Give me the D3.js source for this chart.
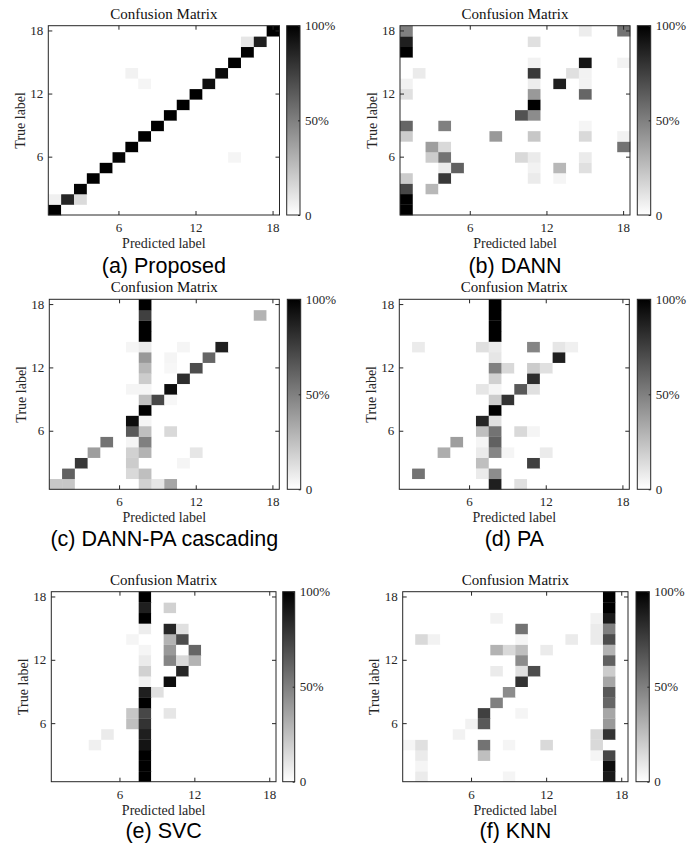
<!DOCTYPE html>
<html>
<head>
<meta charset="utf-8">
<script src="https://cdn.jsdelivr.net/npm/d3@7/dist/d3.min.js"></script>
<style>
  body { margin: 0; background: #fff; }
  svg { display: block; }
</style>
</head>
<body>
<svg id="fig" width="699" height="844"></svg>
<script>
// Class indices shared by every confusion matrix (rows: true label, columns: predicted label)
const classLabels = [1, 2, 3, 4, 5, 6, 7, 8, 9, 10, 11, 12, 13, 14, 15, 16, 17, 18];
const axisTicks = [6, 12, 18];
const colorbarTicks = [0, 50, 100];
const colorbarTickLabels = ["0", "50%", "100%"];
const panelTitle = "Confusion Matrix";
const xAxisLabel = "Predicted label";
const yAxisLabel = "True label";
const captions = ["(a) Proposed", "(b) DANN", "(c) DANN-PA cascading", "(d) PA", "(e) SVC", "(f) KNN"];

// Non-zero cells as [true label, predicted label, percent]; every other cell is 0
const proposedCells = [
  [1,1,100],[2,1,6],[2,2,85],[2,3,14],[3,3,98],[4,4,100],[5,5,100],[6,6,98],[6,15,4],
  [7,7,100],[8,8,100],[9,9,100],[10,10,100],[11,11,100],[12,12,100],[13,8,4],[13,13,94],
  [14,7,5],[14,14,96],[15,15,100],[16,16,100],[17,16,10],[17,17,88],[18,18,100]
];
const dannCells = [
  [18,1,50],[18,15,7],[18,18,55],
  [17,1,88],[17,11,12],
  [16,1,100],
  [15,11,5],[15,15,92],[15,18,5],
  [14,2,8],[14,11,78],[14,14,12],[14,15,5],
  [13,1,5],[13,11,7],[13,13,88],[13,15,5],
  [12,1,12],[12,11,40],[12,15,60],
  [11,11,100],
  [10,10,68],[10,11,45],
  [9,1,60],[9,4,50],[9,15,4],
  [8,1,20],[8,8,40],[8,11,22],[8,15,15],[8,18,5],
  [7,3,38],[7,4,15],[7,18,55],
  [6,3,20],[6,4,55],[6,10,15],[6,11,8],[6,15,8],
  [5,4,8],[5,5,62],[5,11,5],[5,13,28],[5,15,12],
  [4,1,20],[4,4,78],[4,11,8],[4,13,4],
  [3,1,72],[3,3,28],
  [2,1,100],[1,1,100]
];
const dannPaCells = [
  [18,8,100],[17,8,75],[17,17,30],[16,8,100],[15,8,100],
  [14,7,4],[14,8,8],[14,11,4],[14,14,88],
  [13,8,40],[13,10,4],[13,13,60],
  [12,8,28],[12,10,3],[12,12,70],
  [11,8,20],[11,11,82],
  [10,7,4],[10,8,4],[10,10,95],
  [9,8,25],[9,9,72],[9,10,3],
  [8,8,100],
  [7,7,95],[7,8,4],
  [6,7,65],[6,8,25],[6,10,15],
  [5,5,55],[5,7,4],[5,8,50],
  [4,4,38],[4,7,18],[4,8,30],[4,12,10],
  [3,3,78],[3,7,20],[3,11,4],
  [2,2,62],[2,7,15],[2,8,25],
  [1,1,22],[1,2,22],[1,8,18],[1,9,10],[1,10,35]
];
const paCells = [
  [18,8,100],[17,8,100],[16,8,100],[15,8,100],
  [14,2,8],[14,7,12],[14,8,8],[14,11,48],[14,13,10],[14,14,6],
  [13,8,10],[13,13,88],
  [12,8,50],[12,9,15],[12,11,20],[12,12,12],
  [11,8,18],[11,11,82],
  [10,7,10],[10,8,4],[10,10,65],[10,11,12],
  [9,8,20],[9,9,80],
  [8,8,100],
  [7,7,85],[7,8,12],
  [6,7,25],[6,8,55],[6,10,15],[6,11,4],
  [5,5,38],[5,7,4],[5,8,62],
  [4,4,32],[4,7,8],[4,8,48],[4,9,4],[4,12,8],
  [3,7,25],[3,11,75],
  [2,2,55],[2,7,8],[2,8,45],
  [1,8,88],[1,10,12]
];
const svcCells = [
  [18,8,100],[17,8,88],[17,10,18],[16,8,100],
  [15,8,7],[15,10,85],[15,11,12],
  [14,7,4],[14,10,30],[14,11,70],
  [13,8,4],[13,10,40],[13,12,60],
  [12,8,8],[12,10,48],[12,11,15],[12,12,30],
  [11,8,18],[11,11,85],
  [10,8,5],[10,10,95],
  [9,8,88],[9,9,12],
  [8,8,100],
  [7,7,22],[7,8,72],[7,10,10],
  [6,7,25],[6,8,80],
  [5,5,8],[5,8,88],
  [4,4,6],[4,8,92],
  [3,8,100],[2,8,100],[1,8,100]
];
const knnCells = [
  [18,17,100],[17,17,100],
  [16,8,5],[16,16,5],[16,17,90],
  [15,10,55],[15,16,8],[15,17,50],
  [14,2,15],[14,3,5],[14,10,4],[14,14,8],[14,16,8],[14,17,70],
  [13,8,30],[13,9,15],[13,10,25],[13,12,8],[13,17,30],
  [12,10,45],[12,17,62],
  [11,8,8],[11,10,12],[11,11,70],[11,17,20],
  [10,10,80],[10,17,35],
  [9,9,45],[9,17,65],
  [8,8,50],[8,17,60],
  [7,7,75],[7,10,4],[7,17,35],
  [6,6,5],[6,7,65],[6,17,40],
  [5,5,5],[5,16,15],[5,17,80],
  [4,1,4],[4,2,12],[4,7,55],[4,9,4],[4,12,15],[4,16,15],
  [3,2,8],[3,7,25],[3,16,4],[3,17,72],
  [2,2,4],[2,17,95],
  [1,2,8],[1,9,4],[1,17,90]
];
const panelCells = [proposedCells, dannCells, dannPaCells, paCells, svcCells, knnCells];

// Plot-box geometry of each sub-figure (heatmap frame and colorbar strip)
const layouts = [
  { x0: 48.3,  x1: 279.5, y0: 25.7,  y1: 215,   cb0: 286.7, cb1: 300,   capGap: 58 },
  { x0: 400,   x1: 630,   y0: 25.7,  y1: 215,   cb0: 637.3, cb1: 650.7, capGap: 58 },
  { x0: 49.3,  x1: 279.3, y0: 299.3, y1: 489.3, cb0: 287.3, cb1: 300.7, capGap: 56.5 },
  { x0: 399.3, x1: 629.3, y0: 299.3, y1: 489.3, cb0: 637.3, cb1: 650.7, capGap: 56.5 },
  { x0: 51.3,  x1: 276,   y0: 591.7, y1: 781.7, cb0: 282.7, cb1: 294.7, capGap: 56.5 },
  { x0: 402.7, x1: 628,   y0: 591.7, y1: 781.7, cb0: 636,   cb1: 649.3, capGap: 56.5 }
];

const serif = "'Liberation Serif', 'Times New Roman', Times, serif";
const sans = "'Liberation Sans', Arial, Helvetica, sans-serif";
const ink = "#262626";

const svg = d3.select("#fig");
const color = d3.scaleLinear().domain([0, 100]).range(["#ffffff", "#000000"]);

const defs = svg.append("defs");
const grad = defs.append("linearGradient")
  .attr("id", "cbGrad").attr("x1", 0).attr("y1", 1).attr("x2", 0).attr("y2", 0);
grad.append("stop").attr("offset", "0%").attr("stop-color", color(0));
grad.append("stop").attr("offset", "100%").attr("stop-color", color(100));

panelCells.forEach((cells, i) => {
  const L = layouts[i];
  const g = svg.append("g").attr("class", "panel");

  const x = d3.scaleBand().domain(classLabels).range([L.x0, L.x1]);
  const y = d3.scaleBand().domain(classLabels.slice().reverse()).range([L.y0, L.y1]);

  const lookup = new Map(cells.map(c => [c[0] + "-" + c[1], c[2]]));
  const grid = [];
  classLabels.forEach(t => classLabels.forEach(p => {
    grid.push({ t, p, v: lookup.get(t + "-" + p) || 0 });
  }));

  g.append("g").selectAll("rect")
    .data(grid)
    .join("rect")
    .attr("x", d => x(d.p))
    .attr("y", d => y(d.t))
    .attr("width", x.bandwidth() + 0.3)
    .attr("height", y.bandwidth() + 0.3)
    .attr("fill", d => color(d.v));

  // Axes with inward ticks on all four sides
  const styleAxis = sel => {
    sel.select(".domain").remove();
    sel.selectAll(".tick line").attr("stroke", ink);
    sel.selectAll(".tick text")
      .attr("fill", ink)
      .style("font-family", serif)
      .style("font-size", "13px");
  };

  g.append("g")
    .attr("transform", `translate(0,${L.y1})`)
    .call(d3.axisBottom(x).tickValues(axisTicks).tickSizeInner(-4).tickSizeOuter(0).tickPadding(7.8))
    .call(styleAxis);
  g.append("g")
    .attr("transform", `translate(${L.x0},0)`)
    .call(d3.axisLeft(y).tickValues(axisTicks).tickSizeInner(-4).tickSizeOuter(0).tickPadding(5))
    .call(styleAxis);
  g.append("g")
    .attr("transform", `translate(0,${L.y0})`)
    .call(d3.axisTop(x).tickValues(axisTicks).tickSizeInner(-4).tickSizeOuter(0).tickFormat(""))
    .call(styleAxis);
  g.append("g")
    .attr("transform", `translate(${L.x1},0)`)
    .call(d3.axisRight(y).tickValues(axisTicks).tickSizeInner(-4).tickSizeOuter(0).tickFormat(""))
    .call(styleAxis);

  g.append("rect")
    .attr("x", L.x0).attr("y", L.y0)
    .attr("width", L.x1 - L.x0).attr("height", L.y1 - L.y0)
    .attr("fill", "none").attr("stroke", ink).attr("stroke-width", 1);

  // Colorbar
  g.append("rect")
    .attr("x", L.cb0).attr("y", L.y0)
    .attr("width", L.cb1 - L.cb0).attr("height", L.y1 - L.y0)
    .attr("fill", "url(#cbGrad)").attr("stroke", ink).attr("stroke-width", 1);
  const cbScale = d3.scaleLinear().domain([0, 100]).range([L.y1, L.y0]);
  g.append("g")
    .attr("transform", `translate(${L.cb1},0)`)
    .call(d3.axisRight(cbScale).tickValues(colorbarTicks).tickSizeInner(-2).tickSizeOuter(0)
      .tickPadding(5).tickFormat((d, k) => colorbarTickLabels[k]))
    .call(styleAxis);

  const cx = (L.x0 + L.x1) / 2;
  const cy = (L.y0 + L.y1) / 2;

  g.append("text")
    .attr("x", cx).attr("y", L.y0 - 7)
    .attr("text-anchor", "middle")
    .attr("fill", "#111")
    .style("font-family", serif).style("font-size", "15px")
    .text(panelTitle);

  g.append("text")
    .attr("x", cx).attr("y", L.y1 + 33)
    .attr("text-anchor", "middle")
    .attr("fill", ink)
    .style("font-family", serif).style("font-size", "14px")
    .text(xAxisLabel);

  g.append("text")
    .attr("transform", `translate(${L.x0 - 23.3},${cy}) rotate(-90)`)
    .attr("text-anchor", "middle")
    .attr("fill", ink)
    .style("font-family", serif).style("font-size", "14px")
    .text(yAxisLabel);

  g.append("text")
    .attr("x", cx).attr("y", L.y1 + L.capGap)
    .attr("text-anchor", "middle")
    .attr("fill", "#000")
    .style("font-family", sans).style("font-size", "21.5px")
    .text(captions[i]);
});
</script>
</body>
</html>
